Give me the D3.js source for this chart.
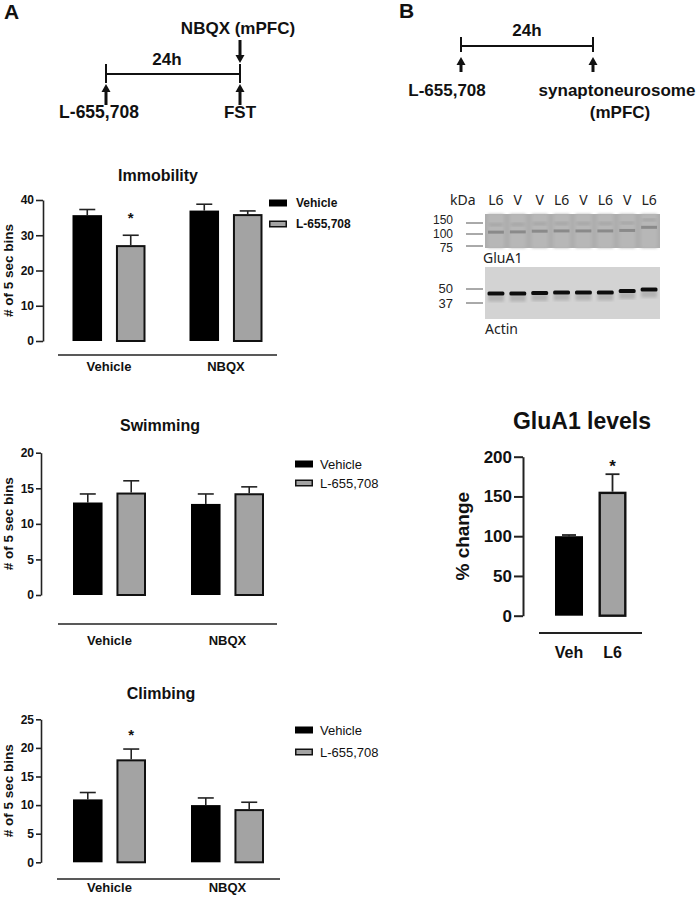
<!DOCTYPE html>
<html><head><meta charset="utf-8">
<script src="https://cdn.jsdelivr.net/npm/d3@7"></script>
<style>
body{margin:0;background:#fff}
svg{display:block}
text{font-family:"Liberation Sans",Arial,Helvetica,sans-serif;fill:#111}
.blot text{font-family:"Noto Sans","Open Sans",sans-serif;fill:#222}
.blot text.mk{font-family:"Liberation Sans",Arial,sans-serif}
</style>
</head><body>
<svg id="c" width="698" height="900"></svg>
<script>
// ---------------- data ----------------
const groups = ["Vehicle", "NBQX"];
const seriesNames = ["Vehicle", "L-655,708"];

const immobilityVeh = [35.7, 37.0];
const immobilityVehErr = [1.6, 1.8];
const immobilityL655 = [27.2, 36.0];
const immobilityL655Err = [2.8, 0.9];
const immobilityTicks = [0, 10, 20, 30, 40];

const swimmingVeh = [13.0, 12.8];
const swimmingVehErr = [1.2, 1.4];
const swimmingL655 = [14.4, 14.3];
const swimmingL655Err = [1.65, 0.9];
const swimmingTicks = [0, 5, 10, 15, 20];

const climbingVeh = [11.0, 10.0];
const climbingVehErr = [1.2, 1.25];
const climbingL655 = [18.0, 9.3];
const climbingL655Err = [1.8, 1.2];
const climbingTicks = [0, 5, 10, 15, 20, 25];

const gluCategories = ["Veh", "L6"];
const gluValues = [100, 156];
const gluErr = [1.5, 22];
const gluTicks = [0, 50, 100, 150, 200];

const laneLabels = ["L6", "V", "V", "L6", "V", "L6", "V", "L6"];
const gluA1Markers = [150, 100, 75];
const actinMarkers = [50, 37];
const gluA1BandKda = [107, 108, 111, 112, 112, 112, 114, 128];
const actinBandKda = [45.4, 45.4, 45.9, 46.4, 46.4, 46.4, 47.9, 49.5];

// ---------------- helpers ----------------
const svg = d3.select("#c");
const GRAY = "#a3a3a3";

function arrow(g, x, yTip, yTail) {
  const dir = yTail > yTip ? 1 : -1;
  const hl = 8, hw = 4.5;
  g.append("line").attr("x1", x).attr("x2", x).attr("y1", yTail).attr("y2", yTip + dir * hl)
    .attr("stroke", "#111").attr("stroke-width", 3);
  g.append("path").attr("d", `M${x},${yTip} L${x - hw},${yTip + dir * hl} L${x + hw},${yTip + dir * hl} Z`)
    .attr("fill", "#111");
}

function boldText(g, x, y, s, size, anchor) {
  return g.append("text").attr("x", x).attr("y", y).text(s)
    .attr("font-size", size).attr("font-weight", "bold").attr("text-anchor", anchor || "middle");
}

// ---------------- panel labels & timelines ----------------
boldText(svg, 4, 19, "A", 21, "start");
boldText(svg, 399, 18, "B", 21, "start");

const tA = svg.append("g");
boldText(tA, 238, 34, "NBQX (mPFC)", 17);
arrow(tA, 240, 63, 40);
tA.append("line").attr("x1", 106).attr("x2", 240).attr("y1", 74).attr("y2", 74).attr("stroke", "#111").attr("stroke-width", 2);
[106, 240].forEach(x => tA.append("line").attr("x1", x).attr("x2", x).attr("y1", 64).attr("y2", 83).attr("stroke", "#111").attr("stroke-width", 2));
boldText(tA, 167, 65, "24h", 17);
arrow(tA, 106, 84, 105);
arrow(tA, 240, 84, 105);
boldText(tA, 99, 118, "L-655,708", 17.5);
boldText(tA, 240, 118, "FST", 17);

const tB = svg.append("g");
tB.append("line").attr("x1", 461).attr("x2", 593).attr("y1", 46).attr("y2", 46).attr("stroke", "#111").attr("stroke-width", 2);
[461, 593].forEach(x => tB.append("line").attr("x1", x).attr("x2", x).attr("y1", 37).attr("y2", 52).attr("stroke", "#111").attr("stroke-width", 2));
boldText(tB, 527, 36, "24h", 17);
arrow(tB, 461, 57, 72);
arrow(tB, 593, 57, 72);
boldText(tB, 447, 96, "L-655,708", 17);
boldText(tB, 617, 96, "synaptoneurosome", 17);
boldText(tB, 620, 118, "(mPFC)", 17);

// ---------------- behaviour bar charts ----------------
function behaviorChart(cfg) {
  const g = svg.append("g");
  const y = d3.scaleLinear().domain([0, cfg.ymax]).range([cfg.y0, cfg.yTop]);
  const xg = d3.scalePoint().domain(groups).range(cfg.groupRange);
  const xs = d3.scaleBand().domain(seriesNames).range([-36.5, 36.5]).paddingInner(0.32);
  const bw = xs.bandwidth();

  boldText(g, cfg.titleX, cfg.titleY, cfg.title, 16);

  const ax = g.append("g").attr("transform", `translate(${cfg.axisX},0)`)
    .call(d3.axisLeft(y).tickValues(cfg.ticks).tickSize(cfg.tickLen).tickSizeOuter(0).tickPadding(2));
  ax.select(".domain").attr("stroke", "#222").attr("stroke-width", 1.6);
  ax.selectAll(".tick line").attr("stroke", "#222").attr("stroke-width", 1.6);
  ax.selectAll(".tick text").attr("font-size", 12).attr("font-weight", "bold")
    .attr("font-family", "Liberation Sans, Arial, sans-serif").attr("fill", "#111");

  g.append("text").attr("transform", `translate(${cfg.ylabelX},${(cfg.y0 + cfg.yTop) / 2}) rotate(-90)`)
    .attr("text-anchor", "middle").attr("font-size", 13.5).attr("font-weight", "bold").text("# of 5 sec bins");

  const data = [];
  groups.forEach((gr, gi) => {
    seriesNames.forEach((s, si) => {
      data.push({ gr, s, si, v: cfg.means[si][gi], e: cfg.errs[si][gi] });
    });
  });

  data.forEach(d => {
    const cx = xg(d.gr) + xs(d.s) + bw / 2;
    const top = y(d.v + d.e);
    g.append("line").attr("x1", cx).attr("x2", cx).attr("y1", y(d.v)).attr("y2", top)
      .attr("stroke", "#222").attr("stroke-width", 1.6);
    g.append("line").attr("x1", cx - 8).attr("x2", cx + 8).attr("y1", top).attr("y2", top)
      .attr("stroke", "#222").attr("stroke-width", 1.6);
    if (d.si === 0) {
      g.append("rect").attr("x", xg(d.gr) + xs(d.s)).attr("width", bw)
        .attr("y", y(d.v)).attr("height", y(0) - y(d.v)).attr("fill", "#000");
    } else {
      g.append("rect").attr("x", xg(d.gr) + xs(d.s) + 1).attr("width", bw - 2)
        .attr("y", y(d.v) + 1).attr("height", y(0) - y(d.v) - 1).attr("fill", GRAY)
        .attr("stroke", "#111").attr("stroke-width", 2);
    }
  });

  (cfg.stars || []).forEach(([si, gi]) => {
    const d = data.find(k => k.si === si && k.gr === groups[gi]);
    const cx = xg(d.gr) + xs(d.s) + bw / 2;
    boldText(g, cx, y(d.v + d.e) - cfg.starGap, "*", 15);
  });

  g.append("line").attr("x1", cfg.lineX[0]).attr("x2", cfg.lineX[1]).attr("y1", cfg.lineY).attr("y2", cfg.lineY)
    .attr("stroke", "#222").attr("stroke-width", 1.6);
  groups.forEach(gr => boldText(g, xg(gr), cfg.groupLabelY, gr, 13));

  seriesNames.forEach((s, i) => {
    const ly = cfg.legend.y[i];
    if (i === 0) {
      g.append("rect").attr("x", cfg.legend.x).attr("y", ly - 3.5).attr("width", 18).attr("height", 7).attr("fill", "#000");
    } else {
      g.append("rect").attr("x", cfg.legend.x + 0.75).attr("y", ly - 2.75).attr("width", 16.5).attr("height", 5.5)
        .attr("fill", GRAY).attr("stroke", "#111").attr("stroke-width", 1.5);
    }
    g.append("text").attr("x", cfg.legend.x + cfg.legend.dx).attr("y", ly).attr("dy", "0.36em")
      .attr("font-size", cfg.legend.bold ? 12 : 13).attr("font-weight", cfg.legend.bold ? "bold" : "normal").text(s);
  });
}

behaviorChart({
  title: "Immobility", titleX: 158, titleY: 181,
  means: [immobilityVeh, immobilityL655], errs: [immobilityVehErr, immobilityL655Err],
  ymax: 40, y0: 341, yTop: 200, ticks: immobilityTicks, tickLen: 7, axisX: 43,
  groupRange: [109, 226], ylabelX: 13,
  stars: [[1, 0]], starGap: 12,
  lineX: [58, 277], lineY: 355, groupLabelY: 371,
  legend: { x: 269, dx: 27, y: [203, 224], bold: true }
});

behaviorChart({
  title: "Swimming", titleX: 160, titleY: 431,
  means: [swimmingVeh, swimmingL655], errs: [swimmingVehErr, swimmingL655Err],
  ymax: 20, y0: 595, yTop: 452.7, ticks: swimmingTicks, tickLen: 5, axisX: 41,
  groupRange: [109.5, 227.5], ylabelX: 13,
  stars: [], starGap: 12,
  lineX: [58, 277], lineY: 624, groupLabelY: 645,
  legend: { x: 295, dx: 25, y: [464, 483], bold: false }
});

behaviorChart({
  title: "Climbing", titleX: 161, titleY: 699,
  means: [climbingVeh, climbingL655], errs: [climbingVehErr, climbingL655Err],
  ymax: 25, y0: 862.3, yTop: 719.3, ticks: climbingTicks, tickLen: 5, axisX: 41,
  groupRange: [109.5, 227.5], ylabelX: 13,
  stars: [[1, 0]], starGap: 9,
  lineX: [57, 280], lineY: 879, groupLabelY: 892,
  legend: { x: 295, dx: 25, y: [730, 752], bold: false }
});

// ---------------- western blot ----------------
const blot = svg.append("g").attr("class", "blot");
const defs = svg.append("defs");
defs.append("filter").attr("id", "blur").append("feGaussianBlur").attr("stdDeviation", 0.7);
defs.append("filter").attr("id", "blur2").append("feGaussianBlur").attr("stdDeviation", 1.5);

const lane = d3.scaleBand().domain(d3.range(laneLabels.length)).range([485, 660]);
blot.append("text").attr("x", 450).attr("y", 205).attr("font-size", 14).text("kDa");
laneLabels.forEach((l, i) => blot.append("text").attr("x", lane(i) + lane.bandwidth() / 2).attr("y", 205)
  .attr("text-anchor", "middle").attr("font-size", 14).text(l));

// GluA1 membrane
const yG = d3.scaleLog().domain([75, 100, 150]).range([246, 234, 223]);
blot.append("rect").attr("x", 485).attr("y", 214).attr("width", 175).attr("height", 34).attr("fill", "#aeaeae");
laneLabels.forEach((l, i) => blot.append("rect").attr("x", lane(i) + 3).attr("y", 214).attr("width", lane.bandwidth() - 6)
  .attr("height", 34).attr("fill", "#b7b7b7").attr("filter", "url(#blur2)"));
gluA1BandKda.forEach((k, i) => {
  blot.append("rect").attr("x", lane(i) + 3).attr("y", yG(k) - 1.5).attr("width", lane.bandwidth() - 6).attr("height", 3)
    .attr("fill", "#8a8a8a").attr("filter", "url(#blur)");
  blot.append("rect").attr("x", lane(i) + 4).attr("y", yG(k) - 9).attr("width", lane.bandwidth() - 8).attr("height", 3)
    .attr("fill", "#a4a4a4").attr("filter", "url(#blur2)");
});
const gluLabelOffset = [-3, 0, 2];
gluA1Markers.forEach((m, i) => {
  blot.append("line").attr("x1", 466).attr("x2", 483).attr("y1", yG(m)).attr("y2", yG(m)).attr("stroke", "#555").attr("stroke-width", 1);
  blot.append("text").attr("class", "mk").attr("x", 453).attr("y", yG(m) + gluLabelOffset[i]).attr("dy", "0.35em").attr("text-anchor", "end")
    .attr("font-size", 12).text(m);
});
blot.append("text").attr("x", 483).attr("y", 263).attr("font-size", 14).text("GluA1");

// Actin membrane
const yA = d3.scaleLog().domain([37, 50]).range([303, 289]);
blot.append("rect").attr("x", 485).attr("y", 267).attr("width", 175).attr("height", 52).attr("fill", "#d3d3d3");
actinBandKda.forEach((k, i) => {
  blot.append("rect").attr("x", lane(i) + 3).attr("y", yA(k) + 1).attr("width", lane.bandwidth() - 6).attr("height", 7)
    .attr("fill", "#b3b3b3").attr("filter", "url(#blur2)");
  blot.append("rect").attr("x", lane(i) + 2.5).attr("y", yA(k) - 2).attr("width", lane.bandwidth() - 5).attr("height", 4)
    .attr("rx", 1.5).attr("fill", "#111").attr("filter", "url(#blur)");
});
const actinLabelOffset = [-0.5, 0.5];
actinMarkers.forEach((m, i) => {
  blot.append("line").attr("x1", 466).attr("x2", 483).attr("y1", yA(m)).attr("y2", yA(m)).attr("stroke", "#555").attr("stroke-width", 1);
  blot.append("text").attr("class", "mk").attr("x", 453).attr("y", yA(m) + actinLabelOffset[i]).attr("dy", "0.35em").attr("text-anchor", "end")
    .attr("font-size", 13).text(m);
});
blot.append("text").attr("x", 485).attr("y", 334).attr("font-size", 14).text("Actin");

// ---------------- GluA1 levels chart ----------------
const gq = svg.append("g");
const yQ = d3.scaleLinear().domain([0, 200]).range([615.7, 456.7]);
const xQ = d3.scalePoint().domain(gluCategories).range([569, 612.5]);
const qbw = 28;
boldText(gq, 582, 429, "GluA1 levels", 23);
const axQ = gq.append("g").attr("transform", "translate(523,0)")
  .call(d3.axisLeft(yQ).tickValues(gluTicks).tickSize(9).tickSizeOuter(0).tickPadding(2));
axQ.select(".domain").attr("stroke", "#222").attr("stroke-width", 2);
axQ.selectAll(".tick line").attr("stroke", "#222").attr("stroke-width", 2);
axQ.selectAll(".tick text").attr("font-size", 17).attr("font-weight", "bold")
  .attr("font-family", "Liberation Sans, Arial, sans-serif").attr("fill", "#111");
gq.append("text").attr("transform", `translate(469,${(615.7 + 456.7) / 2}) rotate(-90)`)
  .attr("text-anchor", "middle").attr("font-size", 19).attr("font-weight", "bold").text("% change");

gluCategories.forEach((c, i) => {
  const cx = xQ(c), v = gluValues[i], e = gluErr[i];
  gq.append("line").attr("x1", cx).attr("x2", cx).attr("y1", yQ(v)).attr("y2", yQ(v + e)).attr("stroke", "#222").attr("stroke-width", 1.8);
  gq.append("line").attr("x1", cx - 7).attr("x2", cx + 7).attr("y1", yQ(v + e)).attr("y2", yQ(v + e)).attr("stroke", "#222").attr("stroke-width", 1.8);
  if (i === 0) {
    gq.append("rect").attr("x", cx - qbw / 2).attr("width", qbw).attr("y", yQ(v)).attr("height", yQ(0) - yQ(v)).attr("fill", "#000");
  } else {
    gq.append("rect").attr("x", cx - qbw / 2 + 1.2).attr("width", qbw - 2.4).attr("y", yQ(v) + 1.2)
      .attr("height", yQ(0) - yQ(v) - 1.2).attr("fill", GRAY).attr("stroke", "#111").attr("stroke-width", 2.4);
    boldText(gq, cx, yQ(v + e) - 2, "*", 17);
  }
  boldText(gq, cx, 658, c, 16);
});
gq.append("line").attr("x1", 539).attr("x2", 642).attr("y1", 633).attr("y2", 633).attr("stroke", "#222").attr("stroke-width", 2);
</script>
</body></html>
